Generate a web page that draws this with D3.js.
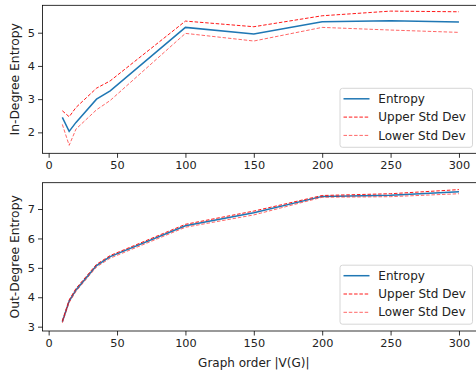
<!DOCTYPE html>
<html>
<head>
<meta charset="utf-8">
<script src="https://cdn.jsdelivr.net/npm/d3@7"></script>
<style>
  body { margin: 0; background: #fff; }
  svg { display: block; font-family: "DejaVu Sans", sans-serif; }
</style>
</head>
<body>
<script>
// graph orders |V(G)|
const orders = [10, 15, 20, 35, 45, 100, 150, 200, 250, 300];

// in-degree entropy
const inMean  = [2.45, 2.03, 2.30, 3.00, 3.25, 5.16, 4.96, 5.33, 5.36, 5.32];
const inUpper = [2.65, 2.47, 2.75, 3.33, 3.55, 5.35, 5.18, 5.51, 5.65, 5.63];
const inLower = [2.24, 1.61, 2.10, 2.68, 2.96, 4.98, 4.75, 5.16, 5.08, 5.01];

// out-degree entropy
const outMean  = [3.17, 3.87, 4.25, 5.08, 5.38, 6.43, 6.87, 7.43, 7.47, 7.59];
const outUpper = [3.20, 3.91, 4.30, 5.12, 5.42, 6.48, 6.93, 7.46, 7.52, 7.66];
const outLower = [3.13, 3.82, 4.20, 5.03, 5.33, 6.38, 6.80, 7.40, 7.42, 7.52];

const xTicks = [0, 50, 100, 150, 200, 250, 300];
const inTicks = [2, 3, 4, 5];
const outTicks = [3, 4, 5, 6, 7];
const legendLabels = ["Entropy", "Upper Std Dev", "Lower Std Dev"];

const width = 476, height = 374;

const svg = d3.select('body').append('svg')
  .attr('width', width)
  .attr('height', height);

const x = d3.scaleLinear().domain([-4.5, 314.5]).range([42.5, 478.8]);

const styles = [
  { color: '#1f77b4', width: 1.5, dash: null, opacity: 1 },
  { color: '#ff0000', width: 1, dash: '3.5,1.8', opacity: 0.9 },
  { color: '#ff0000', width: 1, dash: '3.5,1.8', opacity: 0.6 }
];

function panel(top, bottom, yDomain, ticks, series, label, legendTop) {
  const y = d3.scaleLinear().domain(yDomain).range([bottom, top]);
  const g = svg.append('g');

  const line = d3.line()
    .x(function(d, i) { return x(orders[i]); })
    .y(function(d) { return y(d); });

  series.forEach(function(s, k) {
    const st = styles[k];
    g.append('path')
      .datum(s)
      .attr('d', line)
      .attr('fill', 'none')
      .attr('stroke', st.color)
      .attr('stroke-width', st.width)
      .attr('stroke-opacity', st.opacity)
      .attr('stroke-dasharray', st.dash);
  });

  // frame
  g.append('rect')
    .attr('x', 42.5).attr('y', top)
    .attr('width', 478.8 - 42.5).attr('height', bottom - top)
    .attr('fill', 'none').attr('stroke', '#000').attr('stroke-width', 0.8);

  const xAxis = g.append('g')
    .attr('transform', `translate(0,${bottom})`)
    .call(d3.axisBottom(x).tickValues(xTicks).tickSize(4.5).tickPadding(3).tickFormat(d3.format('d')));
  const yAxis = g.append('g')
    .attr('transform', 'translate(42.5,0)')
    .call(d3.axisLeft(y).tickValues(ticks).tickSize(4.5).tickPadding(3).tickFormat(d3.format('d')));

  [xAxis, yAxis].forEach(function(a) {
    a.select('.domain').remove();
    a.selectAll('line').attr('stroke', '#000').attr('stroke-width', 0.8);
    a.selectAll('text').attr('font-size', 11.3).attr('fill', '#222')
      .attr('font-family', '"DejaVu Sans", sans-serif');
  });

  g.append('text')
    .attr('transform', `translate(18.5,${(top + bottom) / 2}) rotate(-90)`)
    .attr('text-anchor', 'middle')
    .attr('font-size', 12.3)
    .attr('fill', '#222')
    .text(label);

  // legend
  const lg = g.append('g').attr('transform', `translate(340,${legendTop})`);
  lg.append('rect')
    .attr('x', 0).attr('y', 0).attr('width', 132.5).attr('height', 59)
    .attr('rx', 2.5)
    .attr('fill', '#fff').attr('fill-opacity', 0.8)
    .attr('stroke', '#ccc').attr('stroke-width', 0.8);
  legendLabels.forEach(function(name, k) {
    const st = styles[k];
    const ly = 10.5 + k * 18.3;
    lg.append('line')
      .attr('x1', 3.5).attr('x2', 29.5).attr('y1', ly).attr('y2', ly)
      .attr('stroke', st.color)
      .attr('stroke-width', st.width)
      .attr('stroke-opacity', st.opacity)
      .attr('stroke-dasharray', st.dash);
    lg.append('text')
      .attr('x', 38.3).attr('y', ly).attr('dy', '0.35em')
      .attr('font-size', 12).attr('fill', '#222')
      .text(name);
  });
}

panel(5.3, 153.3, [1.37, 5.825], inTicks, [inMean, inUpper, inLower], 'In-Degree Entropy', 88.3);
panel(182.7, 331, [2.853, 7.895], outTicks, [outMean, outUpper, outLower], 'Out-Degree Entropy', 265.2);

svg.append('text')
  .attr('x', x(150)).attr('y', 367)
  .attr('text-anchor', 'middle')
  .attr('font-size', 12).attr('fill', '#222')
  .text('Graph order |V(G)|');
</script>
</body>
</html>
